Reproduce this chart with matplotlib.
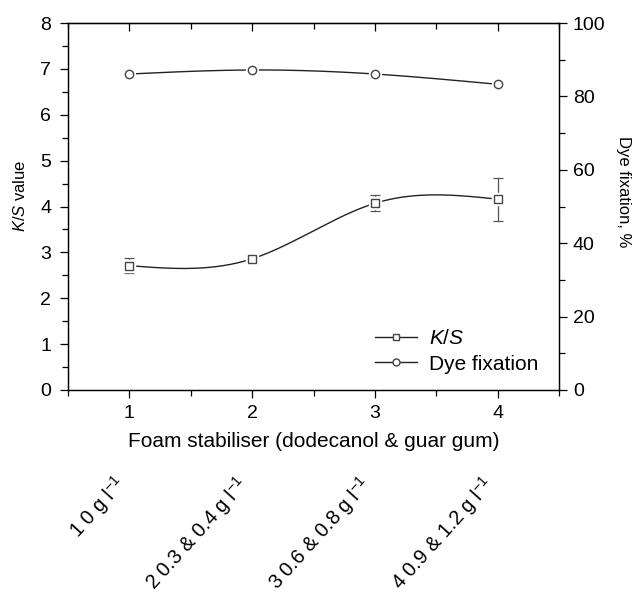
import numpy as np
import matplotlib
matplotlib.use("Agg")
import matplotlib.pyplot as plt
import matplotlib.transforms as mtransforms
from matplotlib.lines import Line2D

plt.rcParams['font.family'] = ['Liberation Sans', 'DejaVu Sans']
plt.rcParams['mathtext.fontset'] = 'custom'
plt.rcParams['mathtext.rm'] = 'Liberation Sans'
plt.rcParams['mathtext.it'] = 'Liberation Sans:italic'

# ---- data ----
stabiliser = [1, 2, 3, 4]
ks_values = [2.71, 2.86, 4.07, 4.16]
ks_err = [0.17, 0.04, 0.17, 0.47]
dye_fixation = [86.1, 87.2, 86.1, 83.3]
dye_err = [0.9, 0.6, 0.7, 0.8]
category_labels = ["1 0 g l$^{-1}$", "2 0.3 & 0.4 g l$^{-1}$",
                   "3 0.6 & 0.8 g l$^{-1}$", "4 0.9 & 1.2 g l$^{-1}$"]


def natural_spline(x, y, n=200):
    x = np.asarray(x, float); y = np.asarray(y, float)
    k = len(x)
    h = np.diff(x)
    A = np.zeros((k, k)); b = np.zeros(k)
    A[0, 0] = 1; A[-1, -1] = 1
    for i in range(1, k - 1):
        A[i, i - 1] = h[i - 1]
        A[i, i] = 2 * (h[i - 1] + h[i])
        A[i, i + 1] = h[i]
        b[i] = 6 * ((y[i + 1] - y[i]) / h[i] - (y[i] - y[i - 1]) / h[i - 1])
    M = np.linalg.solve(A, b)
    xs = np.linspace(x[0], x[-1], n)
    ys = np.empty_like(xs)
    for j, xv in enumerate(xs):
        i = min(np.searchsorted(x, xv, side='right') - 1, k - 2)
        t1 = x[i + 1] - xv; t0 = xv - x[i]
        ys[j] = (M[i] * t1**3 + M[i + 1] * t0**3) / (6 * h[i]) \
            + (y[i] / h[i] - M[i] * h[i] / 6) * t1 \
            + (y[i + 1] / h[i] - M[i + 1] * h[i] / 6) * t0
    return xs, ys


fig = plt.figure(figsize=(6.38, 5.94), dpi=100)
ax = fig.add_axes([68 / 638, 1 - 390 / 594, (559 - 68) / 638, (390 - 23) / 594])
ax2 = ax.twinx()

mc = '#444444'
fs = 14

# K/S curve
xs, ys = natural_spline(stabiliser, ks_values)
ax.plot(xs, ys, color='#222222', lw=1.0, zorder=2)
ax.errorbar(stabiliser, ks_values, yerr=ks_err, fmt='none', ecolor='#555555',
            elinewidth=0.9, capsize=3.5, capthick=0.9, zorder=3)
ax.plot(stabiliser, ks_values, 's', ms=8, mfc='white', mec='white', zorder=4)
ax.plot(stabiliser, ks_values, 's', ms=5.5, mfc='white', mec=mc, mew=1.0, zorder=5)

# Dye fixation curve
xs2, ys2 = natural_spline(stabiliser, dye_fixation)
ax2.plot(xs2, ys2, color='#222222', lw=1.0, zorder=2)
ax2.errorbar(stabiliser, dye_fixation, yerr=dye_err, fmt='none', ecolor='#555555',
             elinewidth=0.9, capsize=3.5, capthick=0.9, zorder=3)
ax2.plot(stabiliser, dye_fixation, 'o', ms=8.5, mfc='white', mec='white', zorder=4)
ax2.plot(stabiliser, dye_fixation, 'o', ms=6, mfc='none', mec=mc, mew=1.0, zorder=5)

ax.set_xlim(0.5, 4.5)
ax.set_ylim(0, 8)
ax2.set_ylim(0, 100)

ax.set_xticks(stabiliser)
ax.set_xticks([0.5, 1.5, 2.5, 3.5, 4.5], minor=True)
ax.set_yticks(range(0, 9))
ax.set_yticks(np.arange(0.5, 8, 1), minor=True)
ax2.set_yticks(range(0, 101, 20))
ax2.set_yticks(range(10, 100, 20), minor=True)

ax.tick_params(axis='x', which='both', direction='out', top=False, labelsize=fs, pad=5)
ax.tick_params(axis='x', which='major', length=6, width=0.9)
ax.tick_params(axis='x', which='minor', length=4, width=0.9)
ax.tick_params(axis='y', which='major', direction='out', length=6, width=0.9, labelsize=fs, pad=6)
ax.tick_params(axis='y', which='minor', direction='out', length=4, width=0.9)
ax2.tick_params(axis='y', which='major', direction='out', length=6, width=0.9, labelsize=fs, pad=4)
ax2.tick_params(axis='y', which='minor', direction='out', length=4, width=0.9)

# top ticks inward via secondary axis
top = ax.secondary_xaxis('top')
top.set_xticks(stabiliser)
top.set_xticks([0.5, 1.5, 2.5, 3.5, 4.5], minor=True)
top.tick_params(which='both', direction='in', labeltop=False)
top.tick_params(which='major', length=6, width=0.9)
top.tick_params(which='minor', length=4, width=0.9)

for a in (ax, ax2):
    for s in a.spines.values():
        s.set_linewidth(0.9)

ax.set_xlabel('Foam stabiliser (dodecanol & guar gum)', fontsize=15, labelpad=7)
fig.text(20 / 638, 1 - 196 / 594, '$K/S$ value', fontsize=12, rotation=90,
         ha='center', va='center')
fig.text(623 / 638, 1 - 192 / 594, 'Dye fixation, %', fontsize=12, rotation=-90,
         ha='center', va='center')

handles = [
    Line2D([], [], color='#222222', lw=1.0, marker='s', ms=5, mfc='white', mec=mc),
    Line2D([], [], color='#222222', lw=1.0, marker='o', ms=5, mfc='white', mec=mc),
]
ax.legend(handles, ['$K/S$', 'Dye fixation'], loc='lower right',
          bbox_to_anchor=(0.975, 0.022), borderaxespad=0.0, frameon=False, fontsize=15,
          handlelength=2.0, handletextpad=0.6, labelspacing=0.3)

# rotated category labels, anchored at the x tick positions
trans = mtransforms.blended_transform_factory(ax.transData, fig.transFigure)
trans = trans + mtransforms.ScaledTranslation(2 / 100, 0, fig.dpi_scale_trans)
for xv, lab in zip(stabiliser, category_labels):
    ax.text(xv, 1 - 472 / 594, lab, rotation=48, ha='right', va='top',
            fontsize=14.5, transform=trans, clip_on=False)

fig.savefig('out.png', dpi=100)
